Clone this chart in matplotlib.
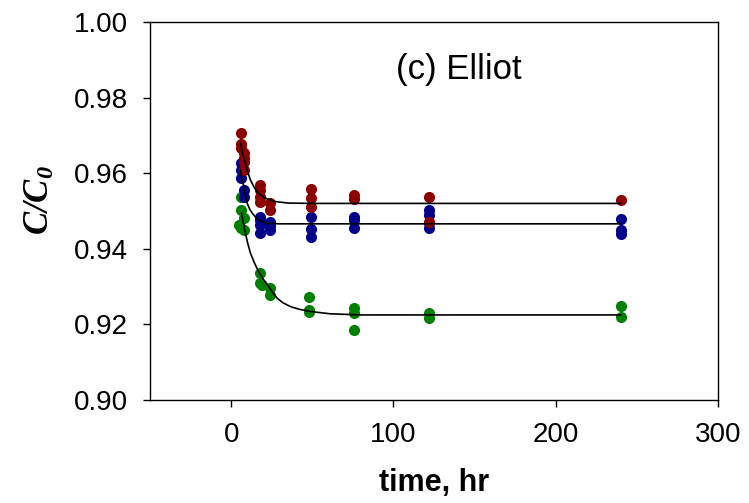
import matplotlib
matplotlib.use('Agg')
import matplotlib.pyplot as plt

# measured C/C0 values (time in hr)
red_t = [6, 6, 6, 8, 8, 8, 8, 18, 18, 18, 18, 24, 24, 49, 49, 49, 76, 76, 122, 122, 240]
red_c = [0.9706, 0.9677, 0.9666, 0.9653, 0.9640, 0.9630, 0.9608, 0.9569, 0.9556, 0.9538, 0.9525,
         0.9521, 0.9503, 0.9557, 0.9534, 0.9510, 0.9542, 0.9532, 0.9536, 0.9472, 0.9529]

blue_t = [6, 6, 6, 8, 8, 18, 18, 18, 18, 24, 24, 24, 49, 49, 49, 76, 76, 76, 122, 122, 122, 122, 240, 240, 240]
blue_c = [0.9627, 0.9608, 0.9587, 0.9556, 0.9538, 0.9485, 0.9475, 0.9463, 0.9442, 0.9472, 0.9460, 0.9450,
          0.9485, 0.9452, 0.9430, 0.9485, 0.9476, 0.9455, 0.9503, 0.9489, 0.9468, 0.9454, 0.9478, 0.9450, 0.9439]

green_t = [6, 6, 5, 6, 8, 8, 18, 18, 19, 24, 24, 48, 48, 48, 76, 76, 76, 122, 122, 240, 240]
green_c = [0.9538, 0.9503, 0.9463, 0.9455, 0.9481, 0.9450, 0.9336, 0.9310, 0.9305, 0.9296, 0.9278,
           0.9272, 0.9238, 0.9232, 0.9243, 0.9229, 0.9185, 0.9229, 0.9216, 0.9249, 0.9220]

# Elliot model curves
red_fit_t = [5.7, 7.2, 8.8, 10.3, 11.9, 14, 16, 18.5, 21, 24, 27, 35, 50, 240]
red_fit_c = [0.9679, 0.9650, 0.9626, 0.9602, 0.9582, 0.9564, 0.9551, 0.9541, 0.9534, 0.9529, 0.9525, 0.9521, 0.9520, 0.9520]

blue_fit_t = [5.7, 6.7, 7.8, 8.8, 9.9, 11.4, 13, 15, 17, 20, 23, 30, 50, 240]
blue_fit_c = [0.9608, 0.9585, 0.9564, 0.9540, 0.9520, 0.9505, 0.9494, 0.9484, 0.9476, 0.9470, 0.9467, 0.9466, 0.9466, 0.9466]

green_fit_t = [6.4, 7.6, 8.8, 10.3, 11.9, 14.5, 17, 20, 23.2, 25.8, 28.4, 32, 36.6, 42, 49, 61, 80, 240]
green_fit_c = [0.9494, 0.9466, 0.9441, 0.9413, 0.9388, 0.9361, 0.9339, 0.9318, 0.9300, 0.9283, 0.9269, 0.9257,
               0.9247, 0.9240, 0.9234, 0.9228, 0.9225, 0.9225]

plt.rcParams['font.family'] = ['Liberation Sans', 'DejaVu Sans']
plt.rcParams['mathtext.fontset'] = 'custom'
plt.rcParams['mathtext.it'] = 'Liberation Serif:italic:bold'
plt.rcParams['mathtext.rm'] = 'Liberation Serif:italic:bold'

fig = plt.figure(figsize=(7.49, 5.03), dpi=100)
ax = fig.add_axes([0.2003, 0.2048, 0.7583, 0.7515])

ms = 8
ax.plot(green_t, green_c, 'o', color='#008000', ms=ms, mec='none')
ax.plot(blue_t, blue_c, 'o', color='#00008B', ms=ms, mec='none')
ax.plot(red_t, red_c, 'o', color='#8B0000', ms=ms, mec='none')

for t, c in [(red_fit_t, red_fit_c), (blue_fit_t, blue_fit_c), (green_fit_t, green_fit_c)]:
    ax.plot(t, c, '-', color='black', lw=1.2)

ax.set_xlim(-50, 300)
ax.set_ylim(0.90, 1.00)
ax.set_xticks([0, 100, 200, 300])
ax.set_yticks([0.90, 0.92, 0.94, 0.96, 0.98, 1.00])
ax.set_yticklabels(['0.90', '0.92', '0.94', '0.96', '0.98', '1.00'])
ax.tick_params(direction='out', length=5, width=1, labelsize=20, pad=11,
               top=False, right=False)
for s in ax.spines.values():
    s.set_linewidth(1)

ax.set_xlabel('time, hr', fontsize=22, fontweight='bold', labelpad=14)
ax.set_ylabel(r'$C/C_0$', fontsize=25, labelpad=14)
ax.yaxis.set_label_coords(-0.165, 0.53)
ax.text(140, 0.9873, '(c) Elliot', fontsize=25, ha='center', va='center')

fig.savefig('out.png', dpi=100)
